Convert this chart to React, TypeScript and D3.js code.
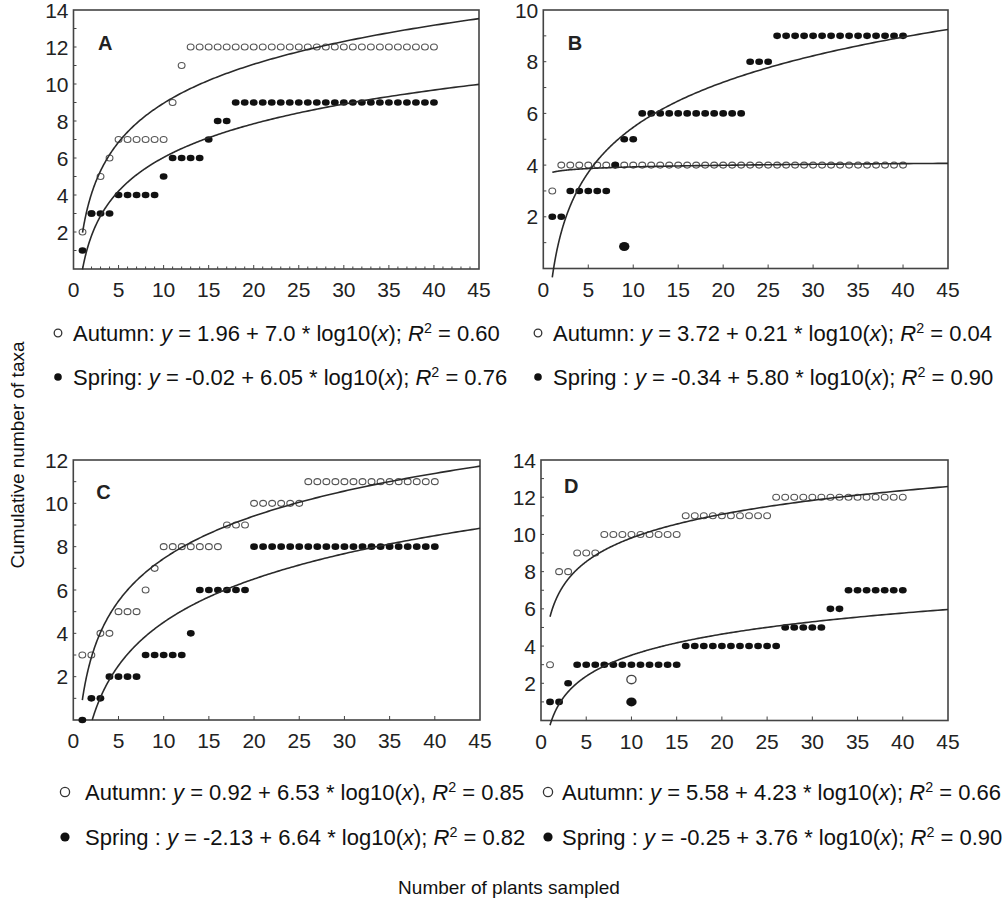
import React from "react";
import * as d3 from "d3";

const FONT = '"Liberation Sans", Arial, Helvetica, sans-serif';

// number of plants sampled (x) for every observed series
const plantsSampled = [1,2,3,4,5,6,7,8,9,10,11,12,13,14,15,16,17,18,19,20,21,22,23,24,25,26,27,28,29,30,31,32,33,34,35,36,37,38,39,40];

// Panel A
const aAutumn = [2,3,5,6,7,7,7,7,7,7,9,11,12,12,12,12,12,12,12,12,12,12,12,12,12,12,12,12,12,12,12,12,12,12,12,12,12,12,12,12];
const aSpring = [1,3,3,3,4,4,4,4,4,5,6,6,6,6,7,8,8,9,9,9,9,9,9,9,9,9,9,9,9,9,9,9,9,9,9,9,9,9,9,9];
// Panel B
const bAutumn = [3,4,4,4,4,4,4,4,4,4,4,4,4,4,4,4,4,4,4,4,4,4,4,4,4,4,4,4,4,4,4,4,4,4,4,4,4,4,4,4];
const bSpring = [2,2,3,3,3,3,3,4,5,5,6,6,6,6,6,6,6,6,6,6,6,6,8,8,8,9,9,9,9,9,9,9,9,9,9,9,9,9,9,9];
// Panel C
const cAutumn = [3,3,4,4,5,5,5,6,7,8,8,8,8,8,8,8,9,9,9,10,10,10,10,10,10,11,11,11,11,11,11,11,11,11,11,11,11,11,11,11];
const cSpring = [0,1,1,2,2,2,2,3,3,3,3,3,4,6,6,6,6,6,6,8,8,8,8,8,8,8,8,8,8,8,8,8,8,8,8,8,8,8,8,8];
// Panel D
const dAutumn = [3,8,8,9,9,9,10,10,10,10,10,10,10,10,10,11,11,11,11,11,11,11,11,11,11,12,12,12,12,12,12,12,12,12,12,12,12,12,12,12];
const dSpring = [1,1,2,3,3,3,3,3,3,3,3,3,3,3,3,4,4,4,4,4,4,4,4,4,4,4,5,5,5,5,5,6,6,7,7,7,7,7,7,7];

// stray (large) markers visible in the figure: [x, y]
const bStraySpring = [[9, 0.85]];
const dStrayAutumn = [[10, 2.2]];
const dStraySpring = [[10, 1.0]];

// fitted curves: y = a + b * log10(x)
const panelNames = ["A", "B", "C", "D"];
const autumnA = [1.96, 3.72, 0.92, 5.58];
const autumnB = [7.0, 0.21, 6.53, 4.23];
const springA = [-0.02, -0.34, -2.13, -0.25];
const springB = [6.05, 5.80, 6.64, 3.76];
const yMaxes = [14, 10, 12, 14];
const xTickLabels = [0, 5, 10, 15, 20, 25, 30, 35, 40, 45];

const autumnLegend = [
  ["1.96", "7.0", ";", "0.60"],
  ["3.72", "0.21", ";", "0.04"],
  ["0.92", "6.53", ",", "0.85"],
  ["5.58", "4.23", ";", "0.66"],
];
const springLegend = [
  ["Spring:", "-0.02", "6.05", "0.76"],
  ["Spring :", "-0.34", "5.80", "0.90"],
  ["Spring :", "-2.13", "6.64", "0.82"],
  ["Spring :", "-0.25", "3.76", "0.90"],
];

const autumnSeries = [aAutumn, bAutumn, cAutumn, dAutumn];
const springSeries = [aSpring, bSpring, cSpring, dSpring];
const straysSpring = [[], bStraySpring, [], dStraySpring];
const straysAutumn = [[], [], [], dStrayAutumn];

// layout
const frames = [
  { l: 73.5, t: 10, r: 479, b: 269 },
  { l: 543.3, t: 10, r: 948, b: 268.5 },
  { l: 73.3, t: 460, r: 480, b: 720 },
  { l: 541, t: 460, r: 948, b: 720.5 },
];
const legendPos = [
  { sym: 58, text: 73, y1: 333, y2: 377, fs: 22, symR: 3.8 },
  { sym: 538, text: 553, y1: 333, y2: 377, fs: 22, symR: 3.8 },
  { sym: 65, text: 85, y1: 792, y2: 837, fs: 22, symR: 4.6 },
  { sym: 548, text: 562, y1: 792, y2: 837, fs: 22, symR: 4.6 },
];
const minorX = [true, false, false, false];

function Panel({ i }: { i: number }) {
  const f = frames[i];
  const x = d3.scaleLinear().domain([0, 45]).range([f.l, f.r]);
  const y = d3.scaleLinear().domain([0, yMaxes[i]]).range([f.b, f.t]);
  const yTicks = d3.range(2, yMaxes[i] + 1, 2);
  const yMinor = d3.range(1, yMaxes[i], 1);
  const xMinor = minorX[i] ? d3.range(1, 45, 1) : d3.range(5, 45, 5);

  const curve = (a: number, b: number, clip: boolean) => {
    const x0 = clip ? Math.max(1, Math.pow(10, -a / b)) : 1;
    const xs = d3.range(0, 301).map((k) => x0 * Math.pow(45 / x0, k / 300));
    return d3.line<number>().x((v) => x(v)).y((v) => y(a + b * Math.log10(v)))(xs) || "";
  };

  const clip = i === 2;
  return (
    <g>
      <rect x={f.l} y={f.t} width={f.r - f.l} height={f.b - f.t} fill="#fff" stroke="#444" strokeWidth={1.6} />
      {yMinor.map((v) => (
        <line key={"ym" + v} x1={f.l} x2={f.l + 3} y1={y(v)} y2={y(v)} stroke="#444" strokeWidth={1} />
      ))}
      {xMinor.map((v) => (
        <line key={"xm" + v} x1={x(v)} x2={x(v)} y1={f.b} y2={f.b - (v % 5 === 0 ? 4 : 2.5)} stroke="#444" strokeWidth={1} />
      ))}
      {yTicks.map((v) => (
        <text key={"yt" + v} x={f.l - 5} y={y(v)} dy="0.36em" textAnchor="end" fontSize={21} fontFamily={FONT} fill="#222">
          {v}
        </text>
      ))}
      {xTickLabels.map((v) => (
        <text key={"xt" + v} x={x(v)} y={f.b + 28} textAnchor="middle" fontSize={21} fontFamily={FONT} fill="#222">
          {v}
        </text>
      ))}
      <text x={f.l + (i < 2 ? 24.5 : 23)} y={f.t + (i < 2 ? 40 : i === 2 ? 39 : 33)} fontSize={20} fontWeight="bold" fontFamily={FONT} fill="#222">
        {panelNames[i]}
      </text>
      {autumnSeries[i].map((v, k) => (
        <ellipse key={"a" + k} cx={x(plantsSampled[k])} cy={y(v)} rx={3.4} ry={3} fill="#fff" stroke="#555" strokeWidth={1.1} />
      ))}
      {straysAutumn[i].map((p, k) => (
        <ellipse key={"sa" + k} cx={x(p[0])} cy={y(p[1])} rx={4.6} ry={4.2} fill="#fff" stroke="#444" strokeWidth={1.3} />
      ))}
      {springSeries[i].map((v, k) => (
        <ellipse key={"s" + k} cx={x(plantsSampled[k])} cy={y(v)} rx={3.9} ry={3.3} fill="#111" />
      ))}
      {straysSpring[i].map((p, k) => (
        <ellipse key={"ss" + k} cx={x(p[0])} cy={y(p[1])} rx={5.2} ry={4.5} fill="#111" />
      ))}
      <path d={curve(autumnA[i], autumnB[i], false)} fill="none" stroke="#2a2a2a" strokeWidth={1.6} />
      <path d={curve(springA[i], springB[i], clip)} fill="none" stroke="#2a2a2a" strokeWidth={1.6} />
    </g>
  );
}

function Legend({ i }: { i: number }) {
  const p = legendPos[i];
  const al = autumnLegend[i];
  const sl = springLegend[i];
  const sup = { fontSize: p.fs * 0.65, baselineShift: "super" } as any;
  return (
    <g fontFamily={FONT} fontSize={p.fs} fill="#111">
      <circle cx={p.sym} cy={p.y1} r={p.symR} fill="#fff" stroke="#333" strokeWidth={1.3} />
      <text x={p.text} y={p.y1} dy="0.36em">
        <tspan>Autumn: </tspan>
        <tspan fontStyle="italic">y</tspan>
        <tspan>{` = ${al[0]} + ${al[1]} * log10(`}</tspan>
        <tspan fontStyle="italic">x</tspan>
        <tspan>{`)${al[2]} `}</tspan>
        <tspan fontStyle="italic">R</tspan>
        <tspan style={sup}>2</tspan>
        <tspan>{` = ${al[3]}`}</tspan>
      </text>
      <circle cx={p.sym} cy={p.y2} r={p.symR} fill="#111" />
      <text x={p.text} y={p.y2} dy="0.36em">
        <tspan>{`${sl[0]} `}</tspan>
        <tspan fontStyle="italic">y</tspan>
        <tspan>{` = ${sl[1]} + ${sl[2]} * log10(`}</tspan>
        <tspan fontStyle="italic">x</tspan>
        <tspan>{"); "}</tspan>
        <tspan fontStyle="italic">R</tspan>
        <tspan style={sup}>2</tspan>
        <tspan>{` = ${sl[3]}`}</tspan>
      </text>
    </g>
  );
}

export default function App() {
  return (
    <svg width={1007} height={912} style={{ position: "absolute", left: 0, top: 0, background: "#fff" }}>
      <rect width={1007} height={912} fill="#fff" />
      {[0, 1, 2, 3].map((i) => (
        <Panel key={i} i={i} />
      ))}
      {[0, 1, 2, 3].map((i) => (
        <Legend key={"l" + i} i={i} />
      ))}
      <text transform="translate(24,455) rotate(-90)" textAnchor="middle" fontSize={19} fontFamily={FONT} fill="#111">
        Cumulative number of taxa
      </text>
      <text x={509} y={894} textAnchor="middle" fontSize={19} fontFamily={FONT} fill="#111">
        Number of plants sampled
      </text>
    </svg>
  );
}
